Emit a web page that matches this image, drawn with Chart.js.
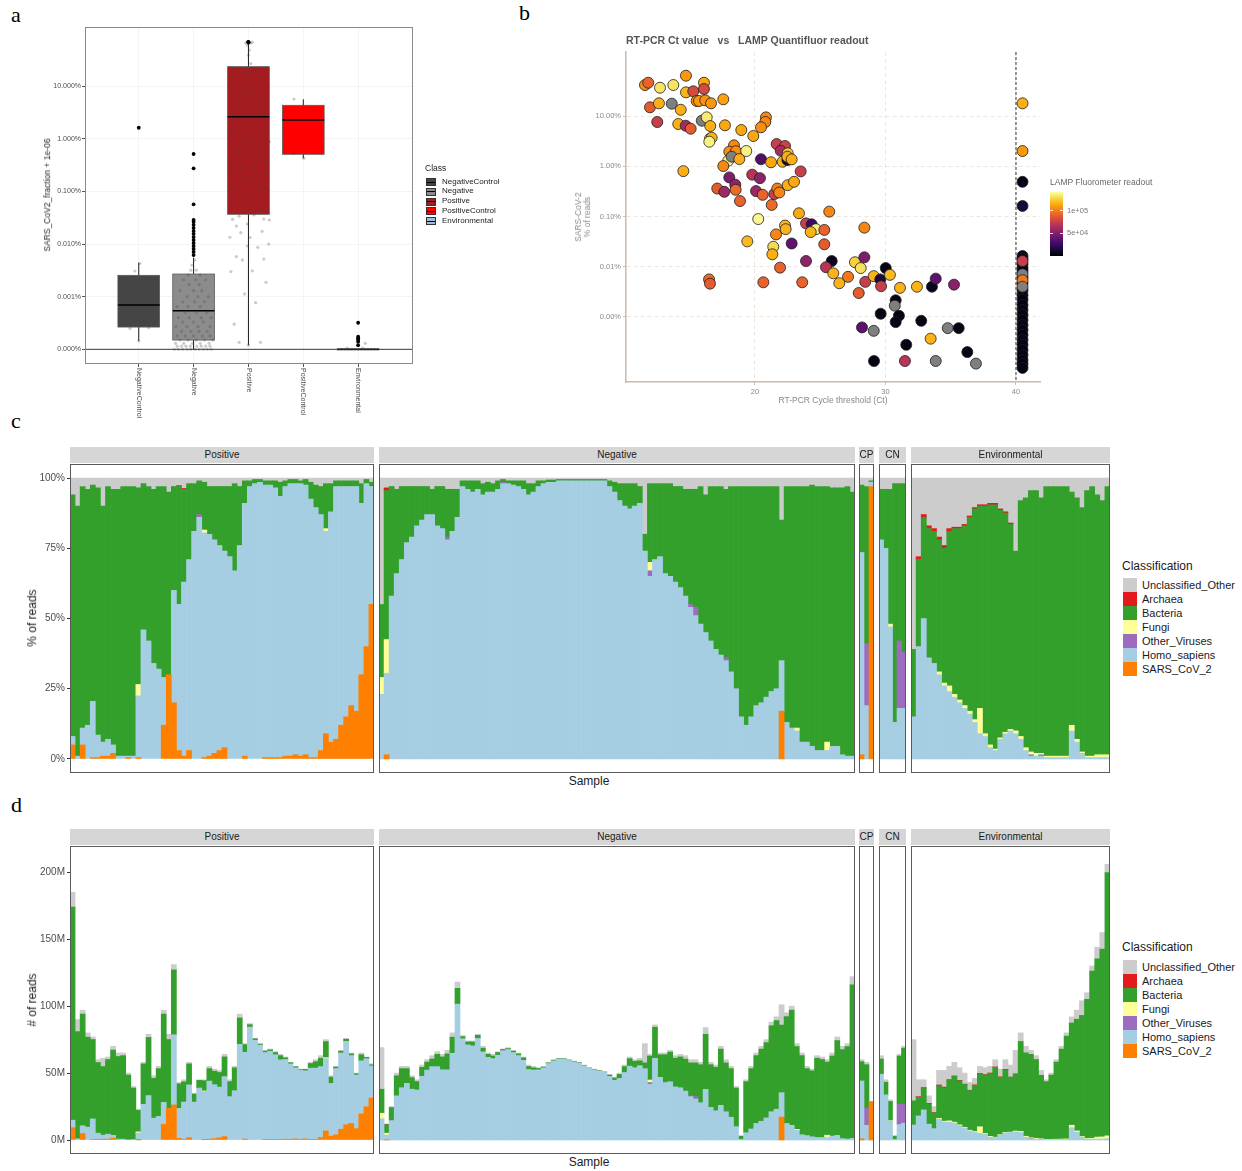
<!DOCTYPE html>
<html>
<head>
<meta charset="utf-8">
<title>SARS-CoV-2 read classification</title>
<script src="https://cdn.jsdelivr.net/npm/chart.js@4.4.1/dist/chart.umd.min.js"></script>
<style>
  html, body { margin: 0; padding: 0; background: #fff; }
  #page { position: relative; width: 1242px; height: 1171px; overflow: hidden;
          font-family: "Liberation Sans", Arial, Helvetica, sans-serif; color: #1a1a1a; }
  #page canvas { position: absolute; }
  .txt { position: absolute; white-space: pre; line-height: 1.15; }
  .tag { font-family: "Liberation Serif", "DejaVu Serif", serif; font-size: 22px; color: #000; line-height: 22px; }
  .strip { position: absolute; background: #d6d6d6; font-size: 10px; text-align: center;
           line-height: 16px; height: 16px; color: #1a1a1a; overflow: hidden; }
  .key { position: absolute; }
</style>
</head>
<body>
<div id="page"></div>
<script>
// ---------------- panel a : SARS-CoV-2 fraction per class ----------------
const classNames = ['NegativeControl', 'Negative', 'Positive', 'PositiveControl', 'Environmental'];
const whiskerLow = [1.44e-6, 1.0e-6, 1.2e-6, 4.28e-3, 1.0e-6];
const boxQ1      = [2.65e-6, 1.5e-6, 3.69e-4, 5.1e-3, 1.0e-6];
const boxMedian  = [6.95e-6, 5.4e-6, 2.64e-2, 2.29e-2, 1.0e-6];
const boxQ3      = [2.55e-5, 2.7e-5, 0.236, 0.0435, 1.0e-6];
const whiskerHigh = [4.43e-5, 5.5e-5, 0.675, 0.0566, 1.0e-6];
const fractionTicks = [1e-6, 1e-5, 1e-4, 1e-3, 1e-2, 1e-1];

// outliers: [class index, value]
const boxOutliers = [
  [0, 0.0163],
  [1, 5.16e-3], [1, 2.76e-3], [1, 5.71e-4], [1, 2.87e-4], [1, 2.63e-4], [1, 2.31e-4], [1, 2.02e-4],
  [1, 1.77e-4], [1, 1.56e-4], [1, 1.36e-4], [1, 1.2e-4], [1, 1.05e-4], [1, 9.2e-5], [1, 8.1e-5],
  [1, 7.1e-5], [1, 6.2e-5],
  [2, 0.68], [2, 0.69], [2, 0.70],
  [4, 3.2e-6], [4, 1.74e-6], [4, 1.62e-6], [4, 1.5e-6], [4, 1.4e-6], [4, 1.2e-6]
];
// jittered samples: [jitter, value]
const jitterNegControl = [[-0.07, 3.08e-5], [-0.085, 1.08e-5], [0.23, 1.16e-5], [0.09, 3.35e-6], [-0.26, 2.9e-6],
  [-0.16, 2.5e-6], [0.18, 2.58e-6], [0.02, 4.3e-5], [0, 1.44e-6]];
const jitterNegative = [
  [-0.35, 1e-6], [-0.28, 1e-6], [-0.2, 1e-6], [-0.12, 1e-6], [-0.05, 1e-6], [0.03, 1e-6], [0.1, 1e-6], [0.18, 1e-6], [0.25, 1e-6], [0.32, 1e-6],
  [-0.3, 1.15e-6], [-0.22, 1.15e-6], [-0.14, 1.15e-6], [-0.06, 1.15e-6], [0.06, 1.15e-6], [0.14, 1.15e-6], [0.22, 1.15e-6], [0.3, 1.15e-6],
  [-0.33, 1.3e-6], [-0.18, 1.3e-6], [-0.02, 1.3e-6], [0.12, 1.3e-6], [0.28, 1.3e-6],
  [-0.25, 1.5e-6], [-0.1, 1.5e-6], [0.05, 1.5e-6], [0.2, 1.5e-6], [0.35, 1.5e-6],
  [-0.3, 1.8e-6], [-0.15, 1.8e-6], [0.0, 1.8e-6], [0.16, 1.8e-6], [0.3, 1.8e-6],
  [-0.22, 2.2e-6], [-0.05, 2.2e-6], [0.1, 2.2e-6], [0.25, 2.2e-6],
  [-0.32, 2.7e-6], [-0.12, 2.7e-6], [0.08, 2.7e-6], [0.3, 2.7e-6],
  [-0.2, 3.3e-6], [0.0, 3.3e-6], [0.18, 3.3e-6],
  [-0.28, 4e-6], [-0.08, 4e-6], [0.14, 4e-6], [0.32, 4e-6],
  [-0.15, 5e-6], [0.05, 5e-6], [0.24, 5e-6],
  [-0.3, 6.5e-6], [-0.1, 6.5e-6], [0.12, 6.5e-6],
  [-0.2, 8e-6], [0.02, 8e-6], [0.2, 8e-6],
  [-0.12, 1e-5], [0.08, 1e-5], [0.27, 1e-5],
  [-0.25, 1.3e-5], [0.0, 1.3e-5], [0.15, 1.3e-5],
  [-0.08, 1.7e-5], [0.1, 1.7e-5],
  [-0.18, 2.1e-5], [0.04, 2.1e-5], [0.22, 2.1e-5],
  [-0.1, 2.6e-5], [0.12, 2.6e-5], [-0.05, 3.2e-5], [0.05, 3.2e-5], [-0.03, 4e-5], [0.02, 5e-5]
];
const jitterPositive = [
  [-0.05, 0.67], [0.0, 0.68], [0.04, 0.66], [0.07, 0.69], [-0.02, 0.70],
  [-0.02, 0.61], [0.02, 0.49], [0.0, 0.39], [0.04, 0.27], [-0.01, 0.19], [0.02, 0.178], [0.0, 0.132],
  [0.04, 0.106], [-0.03, 0.085], [0.1, 0.073], [-0.08, 0.079], [-0.11, 0.055], [0.13, 0.059], [-0.19, 0.041],
  [0.07, 0.038], [0.28, 0.031], [-0.32, 0.0148], [0.0, 0.00885], [0.19, 0.0071], [0.38, 0.00885], [0.07, 0.0057],
  [-0.2, 0.0055], [0.31, 0.0037], [-0.11, 0.0032], [0.1, 0.0031], [-0.32, 0.00275], [0.34, 0.0022], [-0.05, 0.0017],
  [-0.26, 0.0011], [0.25, 0.00107], [0.03, 7.1e-4], [-0.32, 5.96e-4], [0.2, 4.3e-4], [0.0, 4.3e-4], [-0.17, 3.4e-4],
  [0.38, 2.87e-4], [-0.29, 2.96e-4], [0.1, 3.58e-4], [0.28, 3.0e-4], [-0.02, 2.4e-4], [-0.22, 2.2e-4], [-0.14, 1.65e-4],
  [0.25, 1.75e-4], [-0.34, 1.35e-4], [0.03, 1.33e-4], [0.37, 1.0e-4], [-0.02, 9.2e-5], [0.17, 8.7e-5], [-0.22, 5.8e-5],
  [-0.11, 5.0e-5], [0.28, 5.2e-5], [-0.32, 3.0e-5], [0.07, 3.1e-5], [0.32, 1.88e-5], [-0.07, 1.13e-5], [0.13, 7.7e-6],
  [-0.26, 3.0e-6], [-0.17, 1.36e-6], [0.22, 1.36e-6], [0.0, 1.2e-6]
];
const jitterPosControl = [[-0.17, 0.0574], [0.13, 0.0398], [-0.18, 0.0053], [0.01, 0.0043]];
const jitterEnvironmental = [[-0.36, 1e-6], [-0.3, 1e-6], [-0.24, 1e-6], [-0.18, 1e-6], [-0.12, 1e-6], [-0.06, 1e-6],
  [0, 1e-6], [0.06, 1e-6], [0.12, 1e-6], [0.18, 1e-6], [0.24, 1e-6], [0.3, 1e-6], [0.36, 1e-6],
  [-0.2, 1.05e-6], [0.08, 1.05e-6], [0.13, 1.3e-6]];

// ---------------- panel b : RT-PCR Ct vs sequencing ----------------
const ctTicks = [20, 30, 40];
const readsTicks = [1e-5, 1e-4, 1e-3, 1e-2, 1e-1];
const ctValue = [
  11.57, 11.82, 12.72, 13.74, 14.71, 14.71, 15.27, 16.09, 16.09, 11.95,
  12.64, 13.62, 14.31, 15.53, 15.71, 16.19, 16.63, 17.57, 12.51, 14.12,
  14.69, 15.07, 15.92, 16.30, 16.57, 17.70, 18.95, 19.87, 20.84, 20.79,
  20.46, 16.55, 16.68, 16.50, 18.39, 18.03, 18.54, 19.33, 17.95, 18.21,
  18.80, 17.57, 14.51, 20.46, 21.23, 21.66, 22.30, 21.97, 22.51, 22.12,
  22.48, 22.48, 22.81, 23.50, 18.03, 19.79, 20.38, 18.49, 17.11, 17.65,
  18.52, 20.08, 20.59, 21.48, 21.71, 21.86, 22.51, 22.99, 18.85, 21.28,
  20.25, 23.37, 25.69, 23.91, 24.34, 24.67, 24.27, 25.31, 22.30, 22.35,
  21.61, 28.38, 19.41, 21.40, 21.33, 22.81, 25.31, 21.92, 23.91, 25.88,
  25.44, 26.00, 27.13, 26.46, 27.66, 28.10, 28.38, 20.64, 23.62, 28.45,
  29.10, 29.60, 30.02, 30.34, 31.11, 32.41, 29.66, 27.95, 33.56, 33.85,
  35.25, 30.78, 30.71, 29.63, 31.03, 30.78, 32.74, 28.20, 29.10, 34.77,
  35.61, 33.46, 31.59, 36.27, 29.12, 31.49, 33.85, 36.93, 16.48, 16.55,
  // not detected by RT-PCR
  40.5, 40.5, 40.5, 40.5, 40.5, 40.5, 40.5, 40.5, 40.5, 40.5, 40.5, 40.5,
  40.5, 40.5, 40.5, 40.5, 40.5, 40.5, 40.5, 40.5, 40.5, 40.5, 40.5, 40.5,
  40.5, 40.5, 40.5, 40.5, 40.5, 40.5, 40.5, 40.5
];
const sarsFraction = [
  0.414, 0.46, 0.366, 0.414, 0.634, 0.296, 0.31, 0.46, 0.345, 0.149,
  0.179, 0.176, 0.133, 0.199, 0.199, 0.205, 0.179, 0.215, 0.076, 0.0693,
  0.0641, 0.0559, 0.0806, 0.0942, 0.0632, 0.0653, 0.0526, 0.04, 0.094, 0.076,
  0.0596, 0.0353, 0.037, 0.0308, 0.0261, 0.0195, 0.0199, 0.0201, 0.0129, 0.0155,
  0.0139, 0.0101, 0.008, 0.0138, 0.012, 0.0277, 0.0253, 0.0204, 0.0181, 0.0123,
  0.0133, 0.0155, 0.0137, 0.0079, 0.006, 0.0068, 0.0058, 0.0043, 0.0036, 0.0031,
  0.0034, 0.0032, 0.0027, 0.0028, 0.0036, 0.003, 0.0042, 0.0049, 0.00203, 0.0017,
  0.00089, 0.00116, 0.00125, 0.00073, 0.0007, 0.00056, 0.00049, 0.00054, 0.00066, 0.00056,
  0.00044, 0.0006, 0.00032, 0.00025, 0.000177, 0.00029, 0.00028, 0.000096, 0.00013, 0.00013,
  0.000098, 0.000074, 0.000063, 0.000047, 0.000123, 0.000094, 0.000154, 0.000049, 0.000049, 0.00005,
  0.000065, 0.000056, 0.000094, 0.000069, 0.000038, 0.00004, 0.000041, 0.00003, 0.00004, 0.000058,
  0.000044, 0.0000215, 0.0000168, 0.0000116, 0.0000106, 0.0000079, 0.0000084, 0.0000062, 0.0000053, 0.000006,
  0.000006, 0.0000037, 0.0000028, 0.000002, 0.00000133, 0.00000133, 0.00000133, 0.00000118, 0.000056, 0.000046,
  1.64e-4, 1.43e-4, 1.13e-4, 9.4e-5, 8.2e-5, 6.2e-5, 4.7e-5, 3.4e-5, 2.7e-5, 2.2e-5, 1.73e-5, 1.38e-5,
  1.1e-5, 8.7e-6, 6.9e-6, 5.5e-6, 4.4e-6, 3.5e-6, 2.8e-6, 2.2e-6, 1.75e-6, 1.39e-6, 1.16e-6, 9.7e-7,
  0.0049, 0.00162, 1.3e-4, 7.1e-5, 5.4e-5, 4e-5, 0.179, 0.0201
];
const lampReadout = [
  107000, 92000, 133000, 133000, 110000, 119000, 82000, 115000, 82000, 90000,
  117000, null, 117000, 108000, 110000, 108000, 110000, 113000, 76000, 117000,
  62000, 90000, null, 135000, 117000, 115000, 115000, 115000, 105000, 105000,
  107000, 135000, 117000, 138000, 105000, 107000, 107000, 138000, 140000, null,
  117000, 105000, 117000, 33000, 115000, 76000, 78000, 63000, 125000, 118000,
  15000, 117000, 117000, 76000, 50000, 69000, 55000, 55000, 90000, 60000,
  95000, 60000, 92000, 76000, 102000, 105000, 117000, 115000, 92000, 95000,
  140000, 115000, 105000, 76000, 27000, 138000, 118000, 92000, 120000, 118000,
  105000, 105000, 120000, 130000, 117000, 39000, 90000, 92000, 55000, 6000,
  70000, 118000, 100000, 118000, 127000, 132000, 50000, 92000, 92000, 76000,
  118000, 15000, 5000, 120000, 118000, 118000, 76000, 90000, 6000, 38000,
  53000, 4000, null, 4000, 4000, 4000, 4000, 38000, null, null,
  4000, 118000, 4000, 4000, 4000, 70000, null, null, 95000, 90000,
  5000, 3000, 6000, 4000, 3000, 5000, 4000, 3000, 6000, 4000, 3000, 5000,
  4000, 3000, 5000, 4000, 3000, 6000, 4000, 3000, 5000, 4000, 3000, 4000,
  5000, 14000, 76000, null, 100000, null, 117000, 110000
];
const lampMax = 143000;
const lampTicks = [50000, 100000];
const ctCutoff = 40;

// ---------------- panels c and d : read classification per sample ----------------
const groupNames = ['Positive', 'Negative', 'CP', 'CN', 'Environmental'];
const groupSizes = [60, 94, 3, 6, 39];
const classification = ['SARS_CoV_2', 'Homo_sapiens', 'Other_Viruses', 'Fungi', 'Bacteria', 'Archaea', 'Unclassified_Other'];

// % of reads per sample
const sarsPct = [
  // Positive
  5, 0, 5, 0, 0.5, 0.5, 1, 1, 2, 0, 0, 0.5, 0, 0.5, 0, 0, 0, 0, 12, 30,
  20, 3, 1, 3, 0, 0, 0.5, 1, 2, 3, 4, 0, 0, 0, 1, 0, 0, 0, 0.5, 0.5,
  0.5, 0.5, 1, 1, 1.5, 1, 1.5, 0.5, 0.5, 3, 9, 6, 7, 12, 15, 19, 17, 30, 40, 55,
  // Negative
  0, 1.5, 0, 0, 0, 0, 0, 0, 0, 0, 0, 0, 0, 0, 0, 0, 0, 0, 0, 0,
  0, 0, 0, 0, 0, 0, 0, 0, 0, 0, 0, 0, 0, 0, 0, 0, 0, 0, 0, 0,
  0, 0, 0, 0, 0, 0, 0, 0, 0, 0, 0, 0, 0, 0, 0, 0, 0, 0, 0, 0,
  0, 0, 0, 0, 0, 0, 0, 0, 0, 0, 0, 0, 0, 0, 0, 0, 0, 0, 0, 17,
  0, 0, 0, 0, 0, 0, 0, 0, 0, 0, 0, 0, 0, 0,
  // CP
  1.5, 0, 97,
  // CN
  0, 0, 0, 0, 0, 0,
  // Environmental
  0, 0, 0, 0, 0, 0, 0, 0, 0, 0, 0, 0, 0, 0, 0, 0, 0, 0, 0, 0,
  0, 0, 0, 0, 0, 0, 0, 0, 0, 0, 0, 0, 0, 0, 0, 0, 0, 0, 0
];
const homoPct = [
  // Positive
  3, 1, 6, 12, 20, 8, 5, 6, 3, 1, 1, 0.5, 1, 22, 46, 42, 34, 32, 17, 0,
  40, 52, 62, 68, 81, 86, 80, 79, 76, 73, 70, 72, 67, 76, 90, 97, 98, 98.5, 97, 97,
  96, 93, 96, 97, 96.5, 97, 96, 92, 89, 84, 72, 82, 90, 85, 82, 78, 80, 61, 58, 42,
  // Negative
  23, 29, 58, 66, 71, 77, 79, 83, 85, 87, 87, 83, 82, 78, 81, 86, 97, 96, 95, 96,
  94, 95, 95, 96, 98, 98, 97.5, 97, 96, 94, 95, 97, 98, 98.5, 98.5, 99, 99, 99, 99, 99,
  99, 99, 99, 99, 99, 97, 95, 92, 90, 89, 90, 91, 74, 65, 71, 72, 66, 65, 63, 61,
  58, 54, 51, 48, 45, 42, 39, 37, 35, 31, 25, 15, 12, 15, 19, 20, 22, 24, 25, 18,
  13, 11, 10, 6, 6, 4.5, 3, 3, 3, 4.5, 4.5, 1.5, 1, 1,
  // CP
  72, 19, 1.5,
  // CN
  78, 75, 47, 13, 18, 18,
  // Environmental
  15, 40, 50, 36, 34, 30, 26, 24, 22, 20, 18, 16, 13, 9, 8, 4, 3, 7, 9, 10,
  9, 7, 3, 1, 1, 1, 0.5, 0.5, 0.5, 0.5, 0.5, 10, 6, 2, 0.5, 0.5, 0.5, 0.5, 0.5
];
const bacteriaPct = [
  // Positive
  86, 89, 86, 84, 77, 88, 84, 90, 91, 95, 96, 96, 96, 70, 52, 55, 62, 65, 68, 65,
  37, 42, 33, 27, 17, 12, 17, 17, 19, 21, 23, 25, 31, 21, 8, 2, 1.5, 1, 1.5, 1.5,
  2.5, 5, 2, 1.5, 1.5, 1, 2, 6, 8, 10, 16, 10, 2, 2, 2, 2, 2, 7, 1.5, 1.5,
  // Negative
  26, 53, 39, 30, 26, 20, 18, 14, 12, 10, 9, 14, 15, 17, 15, 10, 2, 3, 4, 3,
  4, 3.5, 3, 3, 1, 1, 1.5, 2, 3, 4, 3, 2, 1, 0.8, 0.8, 0.5, 0.5, 0.5, 0.5, 0.5,
  0.5, 0.5, 0.5, 0.5, 0.5, 2, 3.5, 6, 8, 9, 8, 6, 6, 28, 27, 26, 32, 33, 34, 36,
  38, 41, 42, 49, 49, 55, 58, 60, 60, 66, 72, 82, 85, 82, 78, 77, 75, 73, 72, 50,
  84, 86, 86, 91, 91, 93, 94, 94, 91, 92, 92, 95, 96, 94,
  // CP
  24, 56, 0.5,
  // CN
  18, 21, 48, 85, 56, 60,
  // Environmental
  24, 31, 36, 46, 47, 47, 48, 55, 59, 61, 64, 69, 75, 72, 81, 85.5, 87, 81, 78, 73,
  64, 84, 89, 93, 93.5, 91, 96, 96, 96, 96, 96, 83, 86, 87, 94.5, 96, 92.5, 90.5, 95.5
];
// minor classes, listed only where visible: [group, sample in group, %]
const fungiPct = [
  ['Positive', 13, 4], ['Positive', 26, 1], ['Positive', 50, 1],
  ['Negative', 0, 6], ['Negative', 1, 12], ['Negative', 53, 3], ['Negative', 82, 1], ['Negative', 88, 3],
  ['CN', 2, 1],
  ['Environmental', 5, 1], ['Environmental', 6, 1], ['Environmental', 7, 2], ['Environmental', 8, 1],
  ['Environmental', 9, 1], ['Environmental', 10, 1], ['Environmental', 11, 1], ['Environmental', 12, 1],
  ['Environmental', 13, 9], ['Environmental', 14, 1], ['Environmental', 15, 1], ['Environmental', 16, 0.5],
  ['Environmental', 17, 0.5], ['Environmental', 18, 0.5], ['Environmental', 19, 0.5], ['Environmental', 20, 1],
  ['Environmental', 21, 1], ['Environmental', 22, 1], ['Environmental', 23, 1], ['Environmental', 24, 1],
  ['Environmental', 25, 0.5], ['Environmental', 26, 0.5], ['Environmental', 27, 0.5], ['Environmental', 28, 0.5],
  ['Environmental', 29, 0.5], ['Environmental', 30, 0.5], ['Environmental', 31, 2], ['Environmental', 32, 1],
  ['Environmental', 33, 0.5], ['Environmental', 34, 0.5], ['Environmental', 35, 0.5], ['Environmental', 36, 1],
  ['Environmental', 37, 1], ['Environmental', 38, 1]
];
const virusPct = [
  ['Positive', 25, 1], ['Negative', 13, 1], ['Negative', 24, 0.5], ['Negative', 53, 2], ['Negative', 61, 1],
  ['Negative', 62, 3], ['Negative', 68, 1], ['CP', 1, 22], ['CN', 4, 24], ['CN', 5, 20],
  ['Environmental', 23, 0.5], ['Environmental', 25, 0.5]
];
const archaeaPct = [
  ['Positive', 21, 0.3], ['Positive', 22, 0.3], ['Negative', 1, 1],
  ['Environmental', 1, 1], ['Environmental', 2, 1], ['Environmental', 3, 1], ['Environmental', 4, 1],
  ['Environmental', 5, 1], ['Environmental', 6, 1], ['Environmental', 7, 1], ['Environmental', 8, 0.5],
  ['Environmental', 9, 0.5], ['Environmental', 10, 0.5], ['Environmental', 11, 0.5], ['Environmental', 12, 0.5],
  ['Environmental', 13, 0.5], ['Environmental', 14, 0.5], ['Environmental', 15, 0.5], ['Environmental', 16, 0.5],
  ['Environmental', 17, 0.5], ['Environmental', 18, 0.5], ['Environmental', 19, 0.5]
];
// total reads per sample, millions
const readsM = [
  // Positive
  185, 90, 97, 80, 77, 60, 61, 62, 70, 65, 65, 50, 40, 23, 58, 79, 48, 55, 97, 79,
  131, 43, 45, 58, 35, 45, 45, 55, 53, 52, 64, 45, 55, 94, 72, 87, 76, 72, 67, 68,
  66, 64, 62, 58, 55, 53, 53, 58, 60, 63, 75, 48, 55, 67, 76, 65, 50, 65, 62, 57,
  // Negative
  69, 12, 25, 50, 55, 55, 48, 45, 56, 60, 63, 66, 64, 67, 80, 118, 78, 74, 74, 79,
  70, 65, 64, 66, 68, 69, 67, 65, 62, 56, 55, 54, 55, 58, 60, 61, 61, 60, 59, 58,
  56, 54, 53, 52, 51, 49, 47, 50, 56, 62, 60, 61, 72, 64, 86, 65, 65, 67, 63, 64,
  63, 60, 60, 58, 84, 58, 56, 70, 60, 55, 40, 3, 45, 55, 65, 70, 75, 88, 92, 101,
  95, 100, 72, 65, 55, 53, 63, 62, 60, 65, 77, 70, 72, 122,
  // CP
  60, 58, 29,
  // CN
  63, 45, 30, 3, 64, 70,
  // Environmental
  75, 45, 45, 33, 25, 52, 52, 55, 58, 54, 50, 43, 46, 55, 54, 55, 60, 53, 60, 56,
  67, 80, 70, 67, 63, 52, 45, 50, 60, 70, 80, 92, 97, 104, 110, 130, 144, 155, 206
];
const pctTicks = [0, 25, 50, 75, 100];
const readTicks = [0, 50, 100, 150, 200];

// ---------------- styling ----------------
const FONT = '"Liberation Sans", Arial, Helvetica, sans-serif';
const NARROW = '"Liberation Sans Narrow", "Arial Narrow", "Liberation Sans", Arial, sans-serif';
Chart.defaults.font.family = FONT;
Chart.defaults.animation = false;
const page = document.getElementById('page');

const boxColors = ['#454545', '#8c8c8c', '#a41c1f', '#fe0000', '#a4bbdb'];
const classColors = {
  SARS_CoV_2: '#ff7f00', Homo_sapiens: '#a6cee3', Other_Viruses: '#9d6cbf', Fungi: '#ffff99',
  Bacteria: '#33a02c', Archaea: '#e31a1c', Unclassified_Other: '#cccccc'
};
const infernoStops = ['#000004', '#160b39', '#420a68', '#6a176e', '#932667', '#bc3754',
  '#dd513a', '#f37819', '#fca50a', '#f6d746', '#fcffa4'];

function inferno(t) {
  t = Math.max(0, Math.min(1, t));
  const p = t * (infernoStops.length - 1);
  const i = Math.min(Math.floor(p), infernoStops.length - 2);
  const f = p - i;
  const a = parseInt(infernoStops[i].slice(1), 16), b = parseInt(infernoStops[i + 1].slice(1), 16);
  const mix = s => Math.round(((a >> s) & 255) * (1 - f) + ((b >> s) & 255) * f);
  return 'rgb(' + mix(16) + ',' + mix(8) + ',' + mix(0) + ')';
}

function addCanvas(left, top, width, height) {
  const c = document.createElement('canvas');
  c.width = width; c.height = height;
  c.style.left = left + 'px'; c.style.top = top + 'px';
  c.style.width = width + 'px'; c.style.height = height + 'px';
  page.appendChild(c);
  return c;
}

function addText(str, x, y, css, mode) {
  const d = document.createElement('div');
  d.className = 'txt';
  d.textContent = str;
  Object.assign(d.style, css || {});
  d.style.left = x + 'px';
  d.style.top = y + 'px';
  if (mode === 'center') d.style.transform = 'translate(-50%, -50%)';
  if (mode === 'left') d.style.transform = 'translate(0, -50%)';
  if (mode === 'rot') d.style.transform = 'translate(-50%, -50%) rotate(-90deg)';
  page.appendChild(d);
  return d;
}

// fixed axis sizes so plot areas line up with the layout
const fixWidth = w => s => { s.width = w; s.paddingTop = 0; s.paddingBottom = 0; };
const fixHeight = h => s => { s.height = h; s.paddingLeft = 0; s.paddingRight = 0; };
const setTicks = list => s => { s.ticks = list.map(v => ({ value: v })); };

const panelFrame = {
  id: 'panelFrame',
  afterDraw(chart, args, opts) {
    const { ctx, chartArea: a } = chart;
    ctx.save();
    ctx.strokeStyle = opts.color || '#555';
    ctx.lineWidth = 1;
    ctx.strokeRect(Math.round(a.left) + 0.5, Math.round(a.top) + 0.5, Math.round(a.width) - 1, Math.round(a.height) - 1);
    ctx.restore();
  }
};

// ---------------- panel tags ----------------
addText('a', 11, 4, {}, null).className = 'txt tag';
addText('b', 519, 2, {}, null).className = 'txt tag';
addText('c', 11, 410, {}, null).className = 'txt tag';
addText('d', 11, 794, {}, null).className = 'txt tag';

// ---------------- panel a ----------------
const boxHalfWidth = 0.38;
const boxPlot = {
  id: 'boxPlot',
  beforeDatasetsDraw(chart) {
    const { ctx, chartArea: a, scales: { x, y } } = chart;
    ctx.save();
    ctx.beginPath(); ctx.rect(a.left, a.top, a.width, a.height); ctx.clip();
    classNames.forEach((name, i) => {
      const cx = x.getPixelForValue(i + 1);
      const x0 = x.getPixelForValue(i + 1 - boxHalfWidth);
      const x1 = x.getPixelForValue(i + 1 + boxHalfWidth);
      const yLo = y.getPixelForValue(whiskerLow[i]), yHi = y.getPixelForValue(whiskerHigh[i]);
      const yQ1 = y.getPixelForValue(boxQ1[i]), yQ3 = y.getPixelForValue(boxQ3[i]);
      const yMed = y.getPixelForValue(boxMedian[i]);
      ctx.strokeStyle = '#1a1a1a'; ctx.lineWidth = 1;
      ctx.beginPath(); ctx.moveTo(cx, yLo); ctx.lineTo(cx, yHi); ctx.stroke();
      ctx.fillStyle = boxColors[i];
      ctx.fillRect(x0, yQ3, x1 - x0, Math.max(yQ1 - yQ3, 0.5));
      ctx.strokeStyle = '#5a5a5a'; ctx.lineWidth = 0.8;
      ctx.strokeRect(x0, yQ3, x1 - x0, Math.max(yQ1 - yQ3, 0.5));
      ctx.strokeStyle = '#000'; ctx.lineWidth = 1.6;
      ctx.beginPath(); ctx.moveTo(x0, yMed); ctx.lineTo(x1, yMed); ctx.stroke();
    });
    const yZero = y.getPixelForValue(fractionTicks[0]);
    ctx.strokeStyle = '#222'; ctx.lineWidth = 0.9;
    ctx.beginPath(); ctx.moveTo(a.left, yZero); ctx.lineTo(a.right, yZero); ctx.stroke();
    ctx.restore();
  },
  afterDraw(chart) {
    const { ctx, chartArea: a, scales: { x } } = chart;
    ctx.save();
    ctx.font = '7px ' + FONT;
    ctx.fillStyle = '#4d4d4d';
    ctx.textAlign = 'left';
    ctx.textBaseline = 'middle';
    classNames.forEach((name, i) => {
      ctx.save();
      ctx.translate(x.getPixelForValue(i + 1), a.bottom + 4);
      ctx.rotate(Math.PI / 2);
      ctx.fillText(name, 0, 0);
      ctx.restore();
    });
    ctx.restore();
  }
};

const jitterSets = [jitterNegControl, jitterNegative, jitterPositive, jitterPosControl, jitterEnvironmental];
const jitterData = [];
jitterSets.forEach((set, i) => set.forEach(p => jitterData.push({ x: i + 1 + p[0], y: p[1] })));
const outlierData = boxOutliers.map(o => ({ x: o[0] + 1, y: o[1] }));

new Chart(addCanvas(0, 0, 520, 420), {
  type: 'scatter',
  data: {
    datasets: [
      { data: outlierData, pointRadius: 1.9, backgroundColor: '#000', borderWidth: 0 },
      { data: jitterData, pointRadius: 1.6, backgroundColor: 'rgba(70,70,70,0.28)', borderWidth: 0 }
    ]
  },
  options: {
    responsive: false,
    layout: { padding: { left: 40, right: 107, top: 27, bottom: 0 } },
    plugins: { legend: { display: false }, tooltip: { enabled: false }, panelFrame: { color: '#8a8a8a' } },
    scales: {
      x: {
        type: 'linear', min: 0.02, max: 6,
        afterBuildTicks: setTicks([1, 2, 3, 4, 5]),
        ticks: { display: false },
        grid: { color: '#f4f4f4', tickLength: 3, tickColor: '#555' },
        border: { display: false },
        afterFit: fixHeight(56)
      },
      y: {
        type: 'logarithmic', min: 5.26e-7, max: 1.34,
        afterBuildTicks: setTicks(fractionTicks),
        ticks: { callback: v => (v * 100).toFixed(3) + '%', font: { size: 7 }, color: '#4d4d4d', padding: 1 },
        grid: { color: '#f4f4f4', tickLength: 3, tickColor: '#555' },
        border: { display: false },
        afterFit: fixWidth(45)
      }
    }
  },
  plugins: [boxPlot, panelFrame]
});

addText('SARS_CoV2_fraction + 1e-06', 48, 195, { fontSize: '8.5px', color: '#222' }, 'rot');
addText('Class', 425, 169, { fontSize: '8.5px', color: '#222' }, 'left');
classNames.forEach((name, i) => {
  const yc = 181.5 + i * 9.8;
  const key = document.createElement('div');
  key.className = 'key';
  Object.assign(key.style, {
    left: '426px', top: (yc - 3.5) + 'px', width: '8px', height: '6px',
    background: boxColors[i], border: '0.6px solid #333'
  });
  const mid = document.createElement('div');
  Object.assign(mid.style, { position: 'absolute', left: '0', right: '0', top: '2.5px', height: '1px', background: '#000' });
  key.appendChild(mid);
  page.appendChild(key);
  addText(name, 442, yc, { fontSize: '8px', color: '#222' }, 'left');
});

// ---------------- panel b ----------------
const ctLine = {
  id: 'ctLine',
  beforeDatasetsDraw(chart) {
    const { ctx, chartArea: a, scales: { x } } = chart;
    const px = x.getPixelForValue(ctCutoff);
    ctx.save();
    ctx.setLineDash([3, 2]);
    ctx.strokeStyle = '#555';
    ctx.lineWidth = 1.2;
    ctx.beginPath(); ctx.moveTo(px, a.top); ctx.lineTo(px, a.bottom); ctx.stroke();
    ctx.restore();
  }
};
const scatterPoints = ctValue.map((ct, i) => ({ x: ct, y: sarsFraction[i] }));
const scatterFill = lampReadout.map(v => v === null ? '#7f7f7f' : inferno(v / lampMax));

new Chart(addCanvas(520, 0, 722, 420), {
  type: 'scatter',
  data: {
    datasets: [{
      data: scatterPoints, pointRadius: 5.5, backgroundColor: scatterFill,
      borderColor: '#1e1e1e', borderWidth: 0.8
    }]
  },
  options: {
    responsive: false,
    layout: { padding: { left: 70, right: 202, top: 52, bottom: 20 } },
    plugins: { legend: { display: false }, tooltip: { enabled: false } },
    scales: {
      x: {
        type: 'linear', min: 10.115, max: 41.84,
        afterBuildTicks: setTicks(ctTicks),
        ticks: { font: { size: 7.5, family: NARROW }, color: '#8a8a8a', padding: 2 },
        grid: { color: '#efe6dd', tickLength: 3, tickColor: '#cdbfb0' },
        border: { display: true, color: '#c9baa9', width: 1.5, dash: [4, 3] },
        afterFit: fixHeight(18)
      },
      y: {
        type: 'logarithmic', min: 5.08e-7, max: 1.88,
        afterBuildTicks: setTicks(readsTicks),
        ticks: { callback: v => (v * 100).toFixed(2) + '%', font: { size: 7.5, family: NARROW }, color: '#8a8a8a', padding: 2 },
        grid: { color: '#efe6dd', tickLength: 3, tickColor: '#cdbfb0' },
        border: { display: true, color: '#c9baa9', width: 1.5, dash: [4, 3] },
        afterFit: fixWidth(36)
      }
    }
  },
  plugins: [ctLine]
});

addText('RT-PCR Ct value   vs   LAMP Quantifluor readout', 626, 40,
  { fontSize: '10.5px', fontWeight: 'bold', color: '#555', fontFamily: NARROW }, 'left');
addText('SARS-CoV-2\n% of reads', 583, 217, { fontSize: '8.5px', color: '#888', textAlign: 'center', lineHeight: '1.05' }, 'rot');
addText('RT-PCR Cycle threshold (Ct)', 833, 401, { fontSize: '8.5px', color: '#888', fontFamily: NARROW }, 'center');

// colour bar for the LAMP readout
const barTop = 191.5, barH = 64.5, barLeft = 1050, barW = 12.5;
addText('LAMP Fluorometer readout', 1050, 182.5, { fontSize: '8.5px', color: '#666', fontFamily: NARROW }, 'left');
const bar = document.createElement('div');
Object.assign(bar.style, {
  position: 'absolute', left: barLeft + 'px', top: barTop + 'px', width: barW + 'px', height: barH + 'px',
  background: 'linear-gradient(to top, ' + infernoStops.map((c, i) => c + ' ' + (i * 10) + '%').join(', ') + ')'
});
page.appendChild(bar);
lampTicks.forEach(v => {
  const yy = barTop + barH * (1 - v / lampMax);
  [0, barW - 2.5].forEach(off => {
    const t = document.createElement('div');
    Object.assign(t.style, { position: 'absolute', left: (barLeft + off) + 'px', top: (yy - 0.5) + 'px',
      width: '2.5px', height: '1px', background: 'rgba(255,255,255,0.85)' });
    page.appendChild(t);
  });
  addText(v.toExponential(0).replace('e+4', 'e+04').replace('e+5', 'e+05'), 1067, yy,
    { fontSize: '7.5px', color: '#777', fontFamily: NARROW }, 'left');
});

// ---------------- panels c and d ----------------
const facetLeft = [70, 379, 859, 879, 911];
const facetRight = [374, 855, 874, 906, 1110];

function groupStart(g) {
  let s = 0;
  for (let i = 0; i < g; i++) s += groupSizes[i];
  return s;
}
function minorValue(list, g, j) {
  const hit = list.find(r => r[0] === groupNames[g] && r[1] === j);
  return hit ? hit[2] : 0;
}
function groupShares(g) {
  const s = groupStart(g);
  const out = {};
  classification.forEach(c => { out[c] = []; });
  for (let j = 0; j < groupSizes[g]; j++) {
    const k = s + j;
    const row = {
      SARS_CoV_2: sarsPct[k], Homo_sapiens: homoPct[k],
      Other_Viruses: minorValue(virusPct, g, j), Fungi: minorValue(fungiPct, g, j),
      Bacteria: bacteriaPct[k], Archaea: minorValue(archaeaPct, g, j)
    };
    const known = Object.values(row).reduce((a, b) => a + b, 0);
    row.Unclassified_Other = Math.max(0, 100 - known);
    classification.forEach(c => out[c].push(row[c]));
  }
  return out;
}

function facetChart(g, top, height, asReads) {
  const first = g === 0;
  const axisW = first ? 50 : 0;
  const left = facetLeft[g] - axisW;
  const width = facetRight[g] - left;
  const shares = groupShares(g);
  const s = groupStart(g);
  const labels = shares.Bacteria.map((v, j) => groupNames[g] + '_' + (j + 1));
  // empty segments are left out so they leave no hairline on the baseline
  const datasets = classification.map(c => ({
    label: c,
    data: shares[c].map((p, j) => p > 0 ? (asReads ? p / 100 * readsM[s + j] : p) : null),
    backgroundColor: classColors[c],
    borderWidth: 0, barPercentage: 1, categoryPercentage: 1
  }));
  new Chart(addCanvas(left, top, width, height), {
    type: 'bar',
    data: { labels, datasets },
    options: {
      responsive: false,
      layout: { padding: 0 },
      plugins: { legend: { display: false }, tooltip: { enabled: false }, panelFrame: { color: '#5a5a5a' } },
      scales: {
        x: { stacked: true, display: false, offset: true },
        y: {
          stacked: true, display: first,
          min: asReads ? -10.45 : -5, max: asReads ? 219.6 : 105,
          afterBuildTicks: setTicks(asReads ? readTicks : pctTicks),
          ticks: { callback: v => v + (asReads ? 'M' : '%'), font: { size: 10 }, color: '#4d4d4d', padding: 2 },
          grid: { drawOnChartArea: false, tickLength: 3, tickColor: '#333' },
          border: { display: false },
          afterFit: fixWidth(axisW)
        }
      }
    },
    plugins: [panelFrame]
  });
}

function stripRow(top) {
  groupNames.forEach((name, g) => {
    const d = document.createElement('div');
    d.className = 'strip';
    d.textContent = name;
    Object.assign(d.style, { left: facetLeft[g] + 'px', top: top + 'px', width: (facetRight[g] - facetLeft[g]) + 'px' });
    page.appendChild(d);
  });
}

function classLegend(titleY, firstKeyTop) {
  addText('Classification', 1122, titleY, { fontSize: '12px', color: '#1a1a1a' }, 'left');
  classification.slice().reverse().forEach((c, i) => {
    const k = document.createElement('div');
    k.className = 'key';
    Object.assign(k.style, { left: '1123px', top: (firstKeyTop + i * 14) + 'px', width: '14px', height: '14px', background: classColors[c] });
    page.appendChild(k);
    addText(c, 1142, firstKeyTop + i * 14 + 7, { fontSize: '11px', color: '#1a1a1a' }, 'left');
  });
}

// panel c: % of reads
stripRow(447);
groupNames.forEach((n, g) => facetChart(g, 464, 309, false));
addText('% of reads', 33, 618, { fontSize: '12px' }, 'rot');
addText('Sample', 589, 782, { fontSize: '12px' }, 'center');
classLegend(566.5, 578);

// panel d: # of reads
stripRow(829);
groupNames.forEach((n, g) => facetChart(g, 846, 308, true));
addText('# of reads', 33, 1000, { fontSize: '12px' }, 'rot');
addText('Sample', 589, 1163, { fontSize: '12px' }, 'center');
classLegend(948, 960);
</script>
</body>
</html>
